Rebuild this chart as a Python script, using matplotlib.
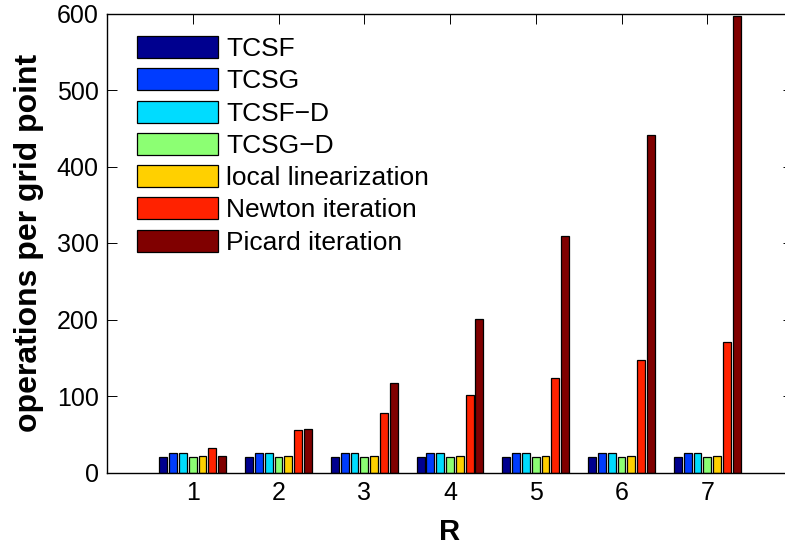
import numpy as np
import matplotlib
matplotlib.use("Agg")
import matplotlib.pyplot as plt

plt.rcParams['font.family'] = ['Liberation Sans', 'DejaVu Sans']

# Data
R = [1, 2, 3, 4, 5, 6, 7]
series_names = ["TCSF", "TCSG", "TCSF\u2212D", "TCSG\u2212D",
                "local linearization", "Newton iteration", "Picard iteration"]
tcsf = [20, 20, 20, 20, 20, 20, 20]
tcsg = [26, 26, 26, 26, 26, 26, 26]
tcsf_d = [26, 26, 26, 26, 26, 26, 26]
tcsg_d = [20, 20, 20, 20, 20, 20, 20]
local_lin = [22, 22, 22, 22, 22, 22, 22]
newton = [32, 55, 78, 101, 124, 147, 170]
picard = [21, 57, 117, 201, 309, 441, 597]
yticks = [0, 100, 200, 300, 400, 500, 600]

series = [tcsf, tcsg, tcsf_d, tcsg_d, local_lin, newton, picard]
colors = ['#00008F', '#003CFF', '#00DCFF', '#8CFF73', '#FFD000', '#FF2200', '#800000']

fig = plt.figure(figsize=(7.85, 5.48), dpi=100)
ax = fig.add_axes([107 / 785, 75.5 / 548, 686 / 785, 459 / 548])

n = len(series)
step = 0.8 / n
width = step * 0.8
x = np.array(R, dtype=float)
handles = []
for i, (vals, name, c) in enumerate(zip(series, series_names, colors)):
    b = ax.bar(x + (i - (n - 1) / 2) * step, vals, width=width, color=c,
               edgecolor='black', linewidth=0.9, label=name, zorder=2)
    handles.append(b)

ax.set_xlim(0, 8)
ax.set_ylim(0, 600)
ax.set_xticks(R)
ax.set_yticks(yticks)
ax.tick_params(direction='in', top=True, right=True, length=7, width=0.7,
               labelsize=18)
ax.tick_params(axis='x', pad=6)
ax.tick_params(axis='y', pad=6)
for s in ax.spines.values():
    s.set_linewidth(1.0)

ax.set_xlabel("R", fontsize=21, fontweight='bold')
ax.set_ylabel("operations per grid point", fontsize=23, fontweight='bold')
ax.xaxis.set_label_coords(0.5, -0.1)
ax.yaxis.set_label_coords(-0.092, 0.5)

leg = ax.legend(handles=handles, loc='upper left', frameon=False,
                fontsize=19, handlelength=3.07, handleheight=0.91,
                labelspacing=0.27, handletextpad=0.32, borderpad=0,
                borderaxespad=0,
                bbox_to_anchor=(137 / 785, 1 - 36 / 548),
                bbox_transform=fig.transFigure)

fig.savefig("out.png", dpi=100)
